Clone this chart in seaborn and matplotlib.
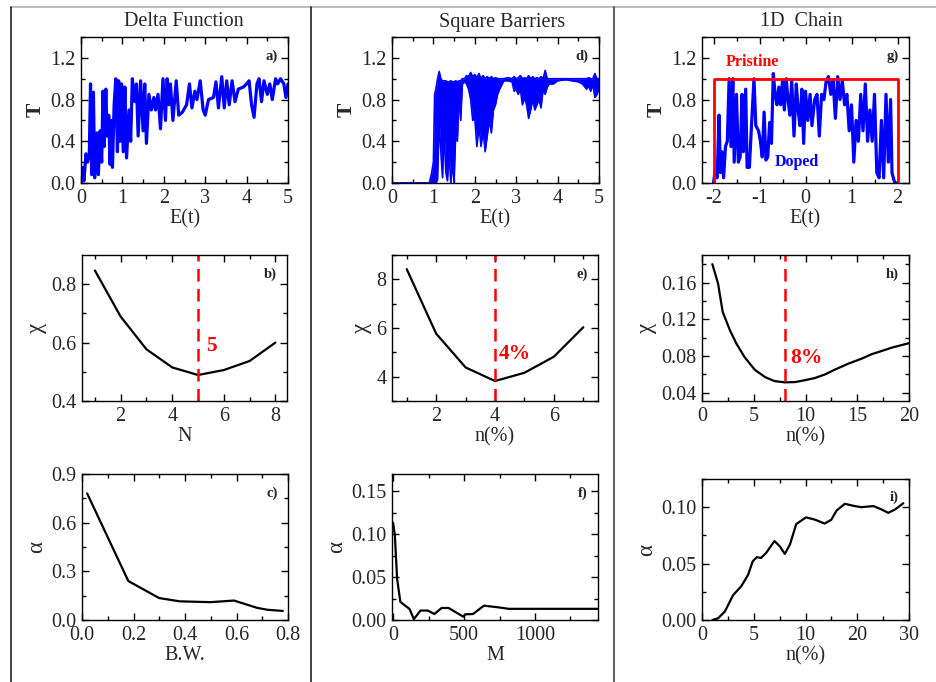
import numpy as np
import matplotlib
matplotlib.use("Agg")
import matplotlib.pyplot as plt
import seaborn as sns
from matplotlib.lines import Line2D
from matplotlib.ticker import MultipleLocator, FixedLocator, FixedFormatter, FormatStrFormatter

# ---------------- data ----------------
# a) Delta function transmission
E_a = [0.00, 0.04, 0.07, 0.12, 0.16, 0.20, 0.23, 0.26, 0.30, 0.33,
       0.38, 0.42, 0.46, 0.50, 0.53, 0.56, 0.60, 0.63, 0.67, 0.70,
       0.73, 0.76, 0.80, 0.84, 0.88, 0.91, 0.94, 0.98, 1.02, 1.06,
       1.10, 1.16, 1.20, 1.24, 1.30, 1.34, 1.38, 1.44, 1.50, 1.54,
       1.58, 1.64, 1.70, 1.76, 1.80, 1.86, 1.92, 1.98, 2.04, 2.08,
       2.12, 2.16, 2.22, 2.30, 2.36, 2.45, 2.55, 2.62, 2.68, 2.75,
       2.80, 2.88, 2.95, 3.00, 3.08, 3.20, 3.26, 3.32, 3.40, 3.46,
       3.52, 3.58, 3.65, 3.72, 3.80, 3.92, 4.00, 4.06, 4.12, 4.18,
       4.25, 4.30, 4.36, 4.42, 4.50, 4.56, 4.62, 4.70, 4.75, 4.82,
       4.90, 4.95, 5.00]
T_a = [0.00, 0.15, 0.02, 0.28, 0.20, 0.27, 0.95, 0.08, 0.87, 0.05,
       0.48, 0.08, 0.50, 0.20, 0.88, 0.35, 0.90, 0.45, 0.65, 0.18,
       0.60, 0.15, 0.75, 1.00, 0.30, 0.98, 0.40, 0.95, 0.30, 0.92,
       0.24, 0.70, 0.40, 1.00, 0.78, 0.95, 0.45, 0.98, 0.50, 0.95,
       0.38, 0.85, 0.70, 0.82, 0.70, 0.85, 0.52, 1.00, 0.60, 1.00,
       0.75, 0.95, 0.60, 0.98, 0.65, 0.68, 0.75, 0.95, 0.72, 0.88,
       0.80, 0.98, 0.70, 0.65, 0.80, 0.82, 0.97, 0.72, 1.02, 0.72,
       0.98, 0.75, 0.98, 0.78, 0.90, 0.92, 0.95, 0.98, 0.75, 0.63,
       0.95, 1.00, 0.78, 0.98, 0.85, 0.95, 0.80, 1.00, 0.95, 1.00,
       0.95, 0.82, 0.95]

# d) Square barriers transmission (dense oscillation: lower / upper envelope)
E_d = [0.00, 0.90, 0.95, 1.00, 1.03, 1.06, 1.10, 1.14, 1.18, 1.22,
       1.26, 1.30, 1.34, 1.38, 1.42, 1.46, 1.50, 1.54, 1.58, 1.62,
       1.66, 1.70, 1.75, 1.80, 1.85, 1.90, 1.95, 2.00, 2.05, 2.10,
       2.15, 2.20, 2.25, 2.30, 2.35, 2.40, 2.45, 2.50, 2.55, 2.60,
       2.70, 2.80, 2.90, 2.95, 3.00, 3.05, 3.10, 3.15, 3.20, 3.25,
       3.30, 3.35, 3.40, 3.45, 3.50, 3.55, 3.60, 3.65, 3.70, 3.75,
       3.80, 3.90, 4.00, 4.20, 4.50, 4.60, 4.70, 4.75, 4.80, 4.85,
       4.90, 4.95, 5.00]
T_d_low = [0.00, 0.00, 0.00, 0.00, 0.00, 0.00, 0.03, 0.60, 0.30, 0.05,
           0.50, 0.10, 0.02, 0.30, 0.00, 0.20, 0.00, 0.50, 0.40, 0.85,
           0.60, 0.95, 0.97, 0.95, 0.90, 0.80, 0.60, 0.62, 0.35, 0.55,
           0.35, 0.50, 0.30, 0.45, 0.60, 0.48, 0.70, 0.75, 0.85, 0.90,
           0.98, 0.98, 0.97, 0.88, 0.90, 0.85, 0.90, 0.75, 0.82, 0.75,
           0.62, 0.70, 0.80, 0.70, 0.75, 0.80, 0.72, 0.90, 0.85, 0.92,
           0.95, 0.95, 0.98, 0.99, 0.97, 0.95, 0.90, 0.93, 0.88, 0.95,
           0.82, 0.85, 0.90]
T_d_up = [0.00, 0.00, 0.08, 0.20, 0.85, 0.90, 1.00, 1.07, 1.00, 0.98,
          0.98, 0.98, 0.97, 0.97, 0.98, 0.97, 0.97, 0.98, 0.97, 0.98,
          0.98, 1.00, 1.00, 1.03, 1.02, 1.06, 1.02, 1.04, 1.01, 1.05,
          1.00, 1.03, 1.00, 1.02, 1.00, 1.02, 1.00, 1.01, 1.00, 1.00,
          1.00, 1.01, 1.00, 1.02, 1.00, 1.01, 1.03, 1.00, 1.01, 1.00,
          1.03, 1.00, 1.02, 1.00, 1.01, 1.00, 1.02, 1.00, 1.08, 1.00,
          1.00, 1.00, 1.00, 1.00, 1.00, 1.00, 1.00, 1.01, 1.00, 1.00,
          1.05, 1.00, 1.00]

# g) 1D chain: pristine and doped
E_pristine = [-2.0, -2.0, 2.0, 2.0]
T_pristine = [0.0, 1.0, 1.0, 0.0]
E_g = [-2.00, -1.97, -1.92, -1.88, -1.85, -1.82, -1.78, -1.74, -1.70, -1.66,
       -1.62, -1.58, -1.55, -1.50, -1.46, -1.42, -1.38, -1.35, -1.30, -1.27,
       -1.22, -1.18, -1.12, -1.08, -1.02, -0.98, -0.94, -0.90, -0.86, -0.82,
       -0.78, -0.74, -0.70, -0.66, -0.62, -0.58, -0.54, -0.50, -0.46, -0.42,
       -0.38, -0.34, -0.30, -0.25, -0.20, -0.16, -0.12, -0.08, -0.04, 0.00,
       0.05, 0.10, 0.14, 0.20, 0.25, 0.30, 0.35, 0.40, 0.45, 0.50,
       0.55, 0.60, 0.65, 0.70, 0.75, 0.80, 0.85, 0.90, 0.95, 1.00,
       1.05, 1.10, 1.15, 1.20, 1.25, 1.30, 1.35, 1.40, 1.45, 1.50,
       1.55, 1.60, 1.65, 1.70, 1.75, 1.80, 1.85, 1.88, 1.92, 1.95,
       2.00]
T_g = [0.00, 0.10, 0.05, 0.65, 0.10, 0.30, 0.05, 0.35, 0.40, 1.00,
       0.35, 1.00, 0.20, 0.85, 0.20, 0.25, 0.85, 0.30, 0.90, 0.15,
       0.15, 0.50, 1.00, 0.55, 0.50, 0.40, 0.25, 0.68, 0.22, 0.25,
       0.58, 0.38, 1.05, 0.85, 0.75, 0.92, 0.75, 0.98, 0.70, 1.00,
       0.80, 0.65, 0.98, 0.45, 0.95, 0.70, 0.55, 0.90, 0.38, 0.88,
       0.60, 0.85, 0.55, 0.80, 0.85, 0.45, 0.85, 0.80, 0.98, 1.02,
       0.85, 0.98, 0.62, 1.02, 0.80, 0.98, 0.75, 0.85, 0.50, 0.75,
       0.20, 0.60, 0.40, 0.85, 0.50, 0.95, 0.40, 0.70, 0.40, 0.85,
       0.10, 0.05, 0.60, 0.05, 0.85, 0.20, 0.80, 0.10, 0.03, 0.00,
       0.00]

# b) chi vs N
N_b = [1, 2, 3, 4, 5, 6, 7, 8]
chi_b = [0.847, 0.689, 0.577, 0.515, 0.489, 0.506, 0.537, 0.600]
opt_b = 5

# e) chi vs n(%)
n_e = [1, 2, 3, 4, 5, 6, 7]
chi_e = [8.42, 5.77, 4.38, 3.82, 4.16, 4.82, 6.03]
opt_e = 4

# h) chi vs n(%)
n_h = [1.0, 1.55, 2.0, 2.7, 3.3, 4.1, 5.1, 6.1, 7.0, 8.0, 9.0,
       10.0, 10.9, 11.9, 12.8, 14.1, 15.4, 16.4, 17.4, 18.3, 20.0]
chi_h = [0.180, 0.159, 0.128, 0.108, 0.094, 0.079, 0.065, 0.057, 0.0527, 0.0513, 0.0516,
         0.0538, 0.056, 0.060, 0.065, 0.0715, 0.077, 0.082, 0.0856, 0.089, 0.094]
opt_h = 8

# c) alpha vs B.W.
bw_c = [0.02, 0.18, 0.30, 0.38, 0.50, 0.59, 0.68, 0.72, 0.78]
alpha_c = [0.78, 0.24, 0.135, 0.115, 0.11, 0.12, 0.075, 0.063, 0.056]

# f) alpha vs M
M_f = [0, 12, 28, 51, 116, 146, 193, 244, 291, 342, 391, 493, 512, 563, 640, 744, 814, 1440]
alpha_f = [0.113, 0.099, 0.048, 0.021, 0.0128, 0.001, 0.011, 0.011, 0.007, 0.014,
           0.014, 0.004, 0.0066, 0.007, 0.0167, 0.0147, 0.013, 0.013]

# i) alpha vs n(%)  (axis with labels 0,5,10,20,30 equally spaced)
n_i = [1.0, 1.55, 2.2, 3.0, 3.8, 4.45, 4.9, 5.3, 5.7, 6.2, 7.0, 7.5, 8.0, 8.5, 9.1,
       10.1, 11.8, 13.7, 15, 16, 17.6, 19.5, 20.8, 23.1, 24.7, 26, 27.3, 28.9]
alpha_i = [0.0, 0.0015, 0.0074, 0.022, 0.030, 0.040, 0.052, 0.0557, 0.055, 0.0595,
           0.070, 0.0655, 0.0586, 0.067, 0.085, 0.091, 0.089, 0.0855, 0.089, 0.097,
           0.103, 0.101, 0.100, 0.101, 0.098, 0.095, 0.098, 0.1035]
i_ticks = [0, 5, 10, 20, 30]

titles = ["Delta Function", "Square Barriers", "1D  Chain"]

# ---------------- style ----------------
sns.set_theme(style="ticks")
plt.rcParams['font.family'] = ['Liberation Serif', 'DejaVu Serif']
plt.rcParams['axes.unicode_minus'] = False
plt.rcParams['axes.linewidth'] = 1.0

FS = 14.5
W, H = 936, 682
fig = plt.figure(figsize=(W / 100, H / 100), dpi=100)


def add_ax(x0, y0, x1, y1):
    return fig.add_axes([x0 / W, 1 - y1 / H, (x1 - x0) / W, (y1 - y0) / H])


def style(ax, label):
    ax.tick_params(which='both', direction='in', top=True, right=True,
                   labelsize=FS, color='black', width=1.0)
    ax.tick_params(which='major', length=5, pad=4)
    ax.tick_params(which='minor', length=3)
    for s in ax.spines.values():
        s.set_color('black')
        s.set_linewidth(1.0)
    ax.text(0.95, 0.87, label, transform=ax.transAxes, ha='right', va='center',
            fontsize=10.5, fontweight='bold')


ax_a = add_ax(81, 37, 288, 183)
ax_d = add_ax(392, 37, 599, 183)
ax_g = add_ax(702, 37, 909, 183)
ax_b = add_ax(82, 255, 287, 401)
ax_e = add_ax(392, 255, 598, 401)
ax_h = add_ax(702, 255, 909, 401)
ax_c = add_ax(82, 474, 288, 620)
ax_f = add_ax(392, 474, 598, 620)
ax_i = add_ax(702, 479, 909, 620)

kw = dict(estimator=None, sort=False, legend=False)

# a)
sns.lineplot(x=E_a, y=T_a, ax=ax_a, color='#0000ff', linewidth=2.3, **kw)
# d)
ax_d.fill_between(E_d, T_d_low, T_d_up, color='#0000ff', linewidth=0)
sns.lineplot(x=E_d, y=T_d_up, ax=ax_d, color='#0000ff', linewidth=1.2, **kw)
sns.lineplot(x=E_d, y=T_d_low, ax=ax_d, color='#0000ff', linewidth=1.2, **kw)
# g)
sns.lineplot(x=E_g, y=T_g, ax=ax_g, color='#0000ff', linewidth=2.3, **kw)
sns.lineplot(x=E_pristine, y=T_pristine, ax=ax_g, color='#ff0000', linewidth=2.0, **kw)
ax_g.text(-1.15, 1.16, "Pristine", color='#ff0000', fontsize=11.5, fontweight='bold',
          ha='center', va='center')
ax_g.text(-0.18, 0.2, "Doped", color='#0000ff', fontsize=11.5, fontweight='bold',
          ha='center', va='center')

for ax, lab in [(ax_a, 'a)'), (ax_d, 'd)'), (ax_g, 'g)')]:
    ax.set_ylim(0, 1.4)
    ax.yaxis.set_major_locator(FixedLocator([0.0, 0.4, 0.8, 1.2]))
    ax.yaxis.set_major_formatter(FormatStrFormatter('%.1f'))
    ax.yaxis.set_minor_locator(MultipleLocator(0.2))
    ax.xaxis.set_major_locator(MultipleLocator(1))
    ax.xaxis.set_minor_locator(MultipleLocator(0.5))
    ax.xaxis.set_major_formatter(FormatStrFormatter('%d'))
    ax.set_xlabel("E(t)", fontsize=FS, labelpad=1)
    ax.set_ylabel("T", fontsize=FS + 1, fontweight='bold', labelpad=3)
    style(ax, lab)
ax_a.set_xlim(0, 5)
ax_d.set_xlim(0, 5)
ax_g.set_xlim(-2.25, 2.25)

# b)
sns.lineplot(x=N_b, y=chi_b, ax=ax_b, color='black', linewidth=1.6, **kw)
ax_b.axvline(opt_b, color='#ff0000', linestyle=(0, (5, 3)), linewidth=1.8)
ax_b.text(5.3, 0.59, "5", color='#ff0000', fontsize=15.5, fontweight='bold',
          ha='left', va='center')
ax_b.set_xlim(0.5, 8.45)
ax_b.set_ylim(0.4, 0.9)
ax_b.xaxis.set_major_locator(FixedLocator([2, 4, 6, 8]))
ax_b.xaxis.set_minor_locator(FixedLocator([1, 3, 5, 7]))
ax_b.yaxis.set_major_locator(FixedLocator([0.4, 0.6, 0.8]))
ax_b.yaxis.set_minor_locator(FixedLocator([0.5, 0.7]))
ax_b.yaxis.set_major_formatter(FormatStrFormatter('%.1f'))
ax_b.set_xlabel("N", fontsize=FS, labelpad=1)
ax_b.set_ylabel("χ", fontsize=FS + 2, labelpad=3)
style(ax_b, 'b)')

# e)
sns.lineplot(x=n_e, y=chi_e, ax=ax_e, color='black', linewidth=1.6, **kw)
ax_e.axvline(opt_e, color='#ff0000', linestyle=(0, (5, 3)), linewidth=1.8)
ax_e.text(4.12, 4.95, "4%", color='#ff0000', fontsize=15.5, fontweight='bold',
          ha='left', va='center')
ax_e.set_xlim(0.5, 7.5)
ax_e.set_ylim(3, 9)
ax_e.xaxis.set_major_locator(FixedLocator([2, 4, 6]))
ax_e.xaxis.set_minor_locator(FixedLocator([1, 3, 5, 7]))
ax_e.yaxis.set_major_locator(FixedLocator([4, 6, 8]))
ax_e.yaxis.set_minor_locator(FixedLocator([3, 5, 7, 9]))
ax_e.set_xlabel("n(%)", fontsize=FS, labelpad=1)
ax_e.set_ylabel("χ", fontsize=FS + 2, labelpad=3)
style(ax_e, 'e)')

# h)
sns.lineplot(x=n_h, y=chi_h, ax=ax_h, color='black', linewidth=1.6, **kw)
ax_h.axvline(opt_h, color='#ff0000', linestyle=(0, (5, 3)), linewidth=1.8)
ax_h.text(8.55, 0.078, "8%", color='#ff0000', fontsize=15.5, fontweight='bold',
          ha='left', va='center')
ax_h.set_xlim(0, 20)
ax_h.set_ylim(0.031, 0.19)
ax_h.xaxis.set_major_locator(MultipleLocator(5))
ax_h.xaxis.set_minor_locator(MultipleLocator(2.5))
ax_h.yaxis.set_major_locator(FixedLocator([0.04, 0.08, 0.12, 0.16]))
ax_h.yaxis.set_minor_locator(FixedLocator([0.06, 0.10, 0.14, 0.18]))
ax_h.yaxis.set_major_formatter(FormatStrFormatter('%.2f'))
ax_h.set_xlabel("n(%)", fontsize=FS, labelpad=1)
ax_h.set_ylabel("χ", fontsize=FS + 2, labelpad=3)
style(ax_h, 'h)')

# c)
sns.lineplot(x=bw_c, y=alpha_c, ax=ax_c, color='black', linewidth=1.6, **kw)
ax_c.set_xlim(0, 0.8)
ax_c.set_ylim(0, 0.9)
ax_c.xaxis.set_major_locator(MultipleLocator(0.2))
ax_c.xaxis.set_minor_locator(MultipleLocator(0.1))
ax_c.yaxis.set_major_locator(MultipleLocator(0.3))
ax_c.yaxis.set_minor_locator(MultipleLocator(0.15))
ax_c.xaxis.set_major_formatter(FormatStrFormatter('%.1f'))
ax_c.yaxis.set_major_formatter(FormatStrFormatter('%.1f'))
ax_c.set_xlabel("B.W.", fontsize=FS, labelpad=1)
ax_c.set_ylabel("α", fontsize=FS + 2, labelpad=3)
style(ax_c, 'c)')

# f)
sns.lineplot(x=M_f, y=alpha_f, ax=ax_f, color='black', linewidth=1.6, **kw)
ax_f.set_xlim(-8, 1444)
ax_f.set_ylim(0, 0.17)
ax_f.xaxis.set_major_locator(MultipleLocator(500))
ax_f.xaxis.set_minor_locator(MultipleLocator(250))
ax_f.yaxis.set_major_locator(MultipleLocator(0.05))
ax_f.yaxis.set_minor_locator(MultipleLocator(0.025))
ax_f.yaxis.set_major_formatter(FormatStrFormatter('%.2f'))
ax_f.xaxis.set_major_formatter(FormatStrFormatter('%d'))
ax_f.set_xlabel("M", fontsize=FS, labelpad=1)
ax_f.set_ylabel("α", fontsize=FS + 2, labelpad=3)
style(ax_f, 'f)')

# i) piecewise-linear axis: 0,5,10,20,30 equally spaced
pos = np.arange(len(i_ticks), dtype=float)
fwd = lambda v: np.interp(v, i_ticks, pos)
inv = lambda v: np.interp(v, pos, i_ticks)
ax_i.set_xscale('function', functions=(fwd, inv))
sns.lineplot(x=n_i, y=alpha_i, ax=ax_i, color='black', linewidth=1.6, **kw)
ax_i.set_xlim(0, 30)
ax_i.set_ylim(0, 0.125)
ax_i.xaxis.set_major_locator(FixedLocator(i_ticks))
ax_i.xaxis.set_major_formatter(FixedFormatter([str(t) for t in i_ticks]))
ax_i.xaxis.set_minor_locator(FixedLocator([2.5, 7.5, 15, 25]))
ax_i.yaxis.set_major_locator(MultipleLocator(0.05))
ax_i.yaxis.set_minor_locator(MultipleLocator(0.025))
ax_i.yaxis.set_major_formatter(FormatStrFormatter('%.2f'))
ax_i.set_xlabel("n(%)", fontsize=FS, labelpad=1)
ax_i.set_ylabel("α", fontsize=FS + 2, labelpad=3)
style(ax_i, 'i)')

# column titles
for xc, t in zip([184, 502, 801], titles):
    fig.text(xc / W, 1 - 22 / H, t, ha='center', va='center', fontsize=FS)

# frame lines
fig.add_artist(Line2D([11 / W, 1], [1 - 7 / H, 1 - 7 / H], color='#b0b0b0', linewidth=1.2))
fig.add_artist(Line2D([11 / W, 11 / W], [0, 1 - 7 / H], color='#222222', linewidth=1.2))
fig.add_artist(Line2D([311 / W, 311 / W], [0, 1 - 7 / H], color='#222222', linewidth=1.2))
fig.add_artist(Line2D([614 / W, 614 / W], [0, 1 - 7 / H], color='#444444', linewidth=1.2))

fig.savefig("out.png", dpi=100, facecolor='white')
